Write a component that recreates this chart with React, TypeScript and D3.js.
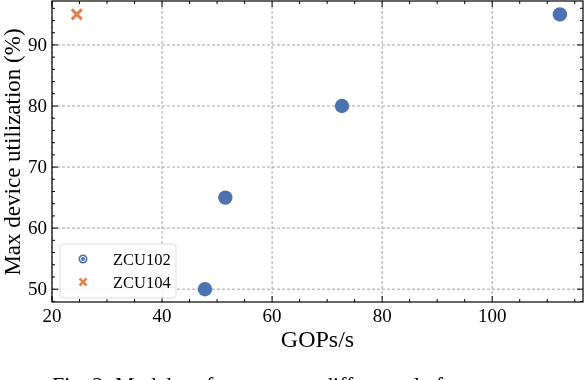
import React, { useEffect, useRef } from 'react';
import * as d3 from 'd3';

const zcu102Gops = [47.8, 51.5, 72.7, 112.3];
const zcu102Util = [50, 65, 80, 95];
const zcu104Gops = [24.5];
const zcu104Util = [95];
const xTicks = [20, 40, 60, 80, 100];
const yTicks = [50, 60, 70, 80, 90];
const seriesNames = ['ZCU102', 'ZCU104'];

const BLUE = '#4C72B0';
const ORANGE = '#DD8452';
const FONT = '"Liberation Serif", "DejaVu Serif", serif';

const App = () => {
  const ref = useRef<SVGSVGElement>(null);

  useEffect(() => {
    const width = 586;
    const height = 380;
    const margin = { top: 1, right: 3, bottom: 78, left: 52 };
    const innerWidth = width - margin.left - margin.right;
    const innerHeight = height - margin.top - margin.bottom;

    const svg = d3.select(ref.current)
      .attr('width', width)
      .attr('height', height);
    svg.selectAll('*').remove();

    const g = svg.append('g')
      .attr('transform', `translate(${margin.left},${margin.top})`);

    const x = d3.scaleLinear().domain([20, 116.5]).range([0, innerWidth]);
    const y = d3.scaleLinear().domain([47.9, 97.2]).range([innerHeight, 0]);

    // grid
    g.selectAll('.gx').data(xTicks).enter().append('line')
      .attr('x1', d => x(d)).attr('x2', d => x(d))
      .attr('y1', 0).attr('y2', innerHeight)
      .attr('stroke', '#9a9a9a').attr('stroke-width', 0.9)
      .attr('stroke-dasharray', '3,2');
    g.selectAll('.gy').data(yTicks).enter().append('line')
      .attr('y1', d => y(d)).attr('y2', d => y(d))
      .attr('x1', 0).attr('x2', innerWidth)
      .attr('stroke', '#9a9a9a').attr('stroke-width', 0.9)
      .attr('stroke-dasharray', '3,2');

    // inward ticks on all sides
    const xMinor = d3.range(20, 117, 5).filter(v => x(v) <= innerWidth);
    const yMinor = d3.range(48, 97.2, 2);
    const tickG = g.append('g').attr('stroke', '#000').attr('stroke-width', 1);
    xMinor.forEach(v => {
      const len = v % 20 === 0 ? 6 : 3;
      tickG.append('line').attr('x1', x(v)).attr('x2', x(v)).attr('y1', innerHeight).attr('y2', innerHeight - len);
      tickG.append('line').attr('x1', x(v)).attr('x2', x(v)).attr('y1', 0).attr('y2', len);
    });
    yMinor.forEach(v => {
      const len = v % 10 === 0 ? 6 : 3;
      tickG.append('line').attr('y1', y(v)).attr('y2', y(v)).attr('x1', 0).attr('x2', len);
      tickG.append('line').attr('y1', y(v)).attr('y2', y(v)).attr('x1', innerWidth).attr('x2', innerWidth - len);
    });

    // frame
    g.append('rect')
      .attr('width', innerWidth).attr('height', innerHeight)
      .attr('fill', 'none').attr('stroke', '#000').attr('stroke-width', 1.2);

    // tick labels
    g.selectAll('.xl').data(xTicks).enter().append('text')
      .attr('x', d => x(d)).attr('y', innerHeight + 20)
      .attr('text-anchor', 'middle')
      .style('font-family', FONT).style('font-size', '19px')
      .text(d => d);
    g.selectAll('.yl').data(yTicks).enter().append('text')
      .attr('x', -5).attr('y', d => y(d) + 6)
      .attr('text-anchor', 'end')
      .style('font-family', FONT).style('font-size', '19px')
      .text(d => d);

    // axis labels
    g.append('text')
      .attr('x', innerWidth / 2).attr('y', innerHeight + 45)
      .attr('text-anchor', 'middle')
      .style('font-family', FONT).style('font-size', '24px')
      .text('GOPs/s');
    svg.append('text')
      .attr('transform', `translate(20,152) rotate(-90)`)
      .attr('text-anchor', 'middle')
      .style('font-family', FONT).style('font-size', '23px')
      .text('Max device utilization (%)');

    // caption (cut off by the frame, as in the source figure)
    svg.append('text')
      .attr('x', 52).attr('y', 392)
      .style('font-family', FONT).style('font-size', '22px')
      .text('Fig. 2: Model performance on different platforms');

    // points
    g.selectAll('.p102').data(zcu102Gops).enter().append('circle')
      .attr('cx', d => x(d)).attr('cy', (d, i) => y(zcu102Util[i]))
      .attr('r', 7.2).attr('fill', BLUE);

    const cross = (sel, cx, cy, s, w) => {
      sel.append('path')
        .attr('d', `M${cx - s},${cy - s}L${cx + s},${cy + s}M${cx - s},${cy + s}L${cx + s},${cy - s}`)
        .attr('stroke', ORANGE).attr('stroke-width', w).attr('fill', 'none');
    };
    zcu104Gops.forEach((v, i) => cross(g, x(v), y(zcu104Util[i]), 5, 3));

    // legend
    const leg = g.append('g').attr('transform', `translate(8,${innerHeight - 58})`);
    leg.append('rect')
      .attr('width', 116).attr('height', 54).attr('rx', 3)
      .attr('fill', 'white').attr('fill-opacity', 0.85)
      .attr('stroke', '#ddd').attr('stroke-width', 1);
    seriesNames.forEach((name, i) => {
      const cy = 15 + i * 23;
      if (i === 0) {
        leg.append('circle').attr('cx', 23).attr('cy', cy).attr('r', 4.5).attr('fill', BLUE);
        leg.append('circle').attr('cx', 23).attr('cy', cy).attr('r', 2.5)
          .attr('fill', 'none').attr('stroke', 'white').attr('stroke-width', 1);
      } else {
        cross(leg, 23, cy, 3.5, 2.5);
      }
      leg.append('text')
        .attr('x', 53).attr('y', cy + 5.5)
        .style('font-family', FONT).style('font-size', '16.5px')
        .text(name);
    });
  }, []);

  return (
    <div style={{ position: 'fixed', left: 0, top: 0 }}>
      <svg ref={ref} style={{ display: 'block' }}></svg>
    </div>
  );
};

export default App;
